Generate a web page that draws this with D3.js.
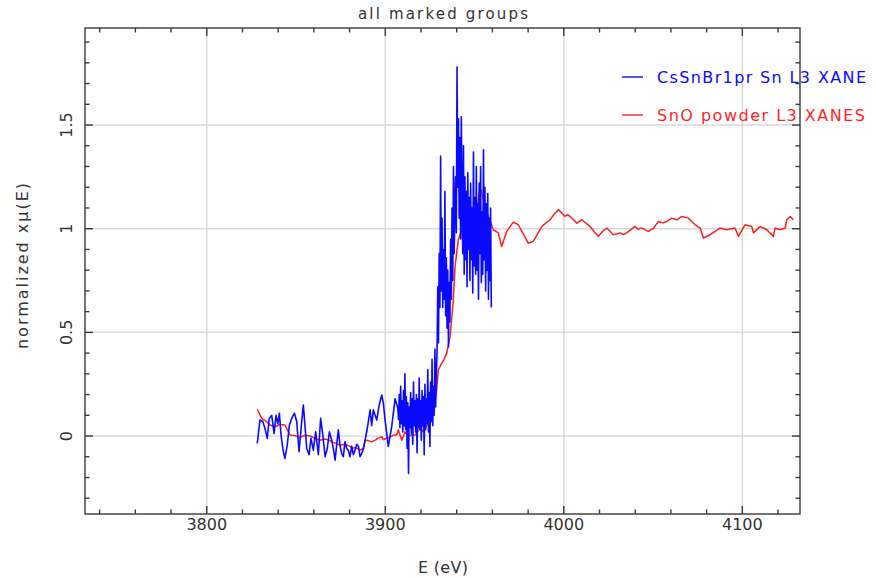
<!DOCTYPE html>
<html>
<head>
<meta charset="utf-8">
<script src="https://cdn.jsdelivr.net/npm/d3@7"></script>
<style>
  html, body { margin: 0; padding: 0; background: #fff; }
  svg { display: block; }
  text { font-family: "DejaVu Sans", "Liberation Sans", sans-serif; fill: #333; }
</style>
</head>
<body>
<svg id="chart" width="876" height="578"></svg>
<script>
// ---- data -------------------------------------------------------------
const chartTitle = "all marked groups";
const xLabel = "E (eV)";
const yLabel = "normalized x\u03bc(E)";
const xTickValues = [3800, 3900, 4000, 4100];
const yTickValues = [0, 0.5, 1, 1.5];
const yTickLabels = ["0", "0.5", "1", "1.5"];
const seriesNames = ["CsSnBr1pr Sn L3 XANE", "SnO powder L3 XANES"];
const seriesColors = ["#0a0aff", "#ff1f1f"];

// CsSnBr1pr Sn L3 XANES pre-edge: [energy (eV), normalized mu]
const cssnbrPreEdge = [
  [3828.3,-0.035],[3829.8,0.077],[3831.4,0.070],[3832.6,0.037],[3833.9,-0.011],
  [3835.0,0.085],[3836.4,0.100],[3837.7,0.013],[3838.8,0.100],[3839.8,0.060],
  [3840.7,0.110],[3841.6,0.005],[3842.9,-0.076],[3843.8,-0.108],[3845.1,-0.043],
  [3846.3,0.053],[3847.6,0.085],[3849.1,0.110],[3850.4,0.070],[3851.7,-0.076],
  [3853.2,0.070],[3854.1,0.150],[3855.0,0.053],[3856.0,-0.060],[3857.3,-0.090],
  [3858.4,-0.011],[3859.7,-0.068],[3861.0,0.020],[3862.5,-0.090],[3863.8,0.085],
  [3865.0,0.005],[3866.3,-0.100],[3867.5,-0.060],[3868.7,0.020],[3870.0,-0.020],
  [3870.9,-0.060],[3871.9,-0.116],[3872.8,-0.040],[3873.7,0.030],[3874.7,-0.050],
  [3875.6,-0.085],[3876.5,-0.100],[3877.4,-0.028],[3878.4,-0.060],[3879.3,-0.068],
  [3880.2,-0.100],[3881.2,-0.050],[3882.1,-0.090],[3883.1,-0.068],[3884.0,-0.040],
  [3885.0,-0.050],[3885.9,-0.100],[3886.8,-0.084],[3887.8,-0.060],[3888.7,-0.020],
  [3890.0,0.040],[3891.5,0.126],[3892.4,0.050],[3893.3,0.126],[3895.2,0.077],
  [3896.6,0.150],[3898.0,0.198],[3898.9,0.160],[3899.9,0.077],[3901.7,-0.050],
  [3903.6,0.045],[3905.5,0.180],[3907.0,0.134]
];
// edge region, sampled every 0.4 eV from 3907.4 eV
const cssnbrEdgeStart = 3907.4;
const cssnbrEdgeStep = 0.4;
const cssnbrEdgeMu = [
  0.08, 0.20, 0.04, 0.24, 0.06, 0.17, 0.02, 0.22, 0.05, 0.30,
  0.03, 0.19, -0.06, 0.16, -0.18, 0.14, 0.04, 0.21, 0.01, 0.18,
  -0.04, 0.26, 0.05, 0.17, 0.02, 0.20, -0.08, 0.18, 0.04, 0.28,
  0.03, 0.17, -0.02, 0.22, 0.05, 0.19, -0.09, 0.25, 0.03, 0.18,
  0.06, 0.32, 0.02, 0.21, -0.05, 0.26, 0.07, 0.37, 0.05, 0.24,
  0.10, 0.42, 0.14, 0.30, 0.40, 0.72, 0.45, 0.88, 0.62, 1.35,
  0.70, 1.05, 0.62, 0.90, 0.66, 1.18, 0.58, 0.86, 0.52, 0.80,
  0.43, 0.74, 0.55, 0.95, 0.66, 1.10, 0.75, 1.30, 0.88, 1.12,
  1.25, 0.98, 1.78, 1.20, 1.53, 1.05, 1.44, 0.95, 1.54, 1.12,
  0.88, 1.40, 0.78, 1.25, 0.85, 1.18, 0.72, 1.27, 0.90, 1.15,
  0.75, 1.22, 0.85, 1.10, 0.69, 1.37, 0.82, 1.15, 0.78, 1.30,
  0.80, 1.12, 0.66, 1.22, 0.88, 1.30, 0.74, 1.08, 0.78, 1.38,
  0.85, 1.20, 0.70, 1.12, 0.80, 1.17, 0.66, 1.05, 0.75, 1.10,
  0.62
];

// SnO powder L3 XANES: [energy (eV), normalized mu]
const snoPoints = [
  [3828.3,0.129],[3830.8,0.085],[3833.2,0.072],[3835.4,0.053],[3838.2,0.045],
  [3841.0,0.056],[3843.8,0.053],[3846.6,0.005],[3849.4,0.002],[3852.2,-0.008],
  [3855.0,0.004],[3857.9,0.000],[3860.7,-0.012],[3863.5,-0.020],[3866.3,-0.014],
  [3869.1,-0.022],[3870.0,-0.028],[3871.9,-0.034],[3874.7,-0.043],[3877.5,-0.040],
  [3880.3,-0.050],[3881.2,-0.060],[3883.1,-0.055],[3885.9,-0.068],[3887.7,-0.060],
  [3888.7,-0.020],[3890.5,-0.022],[3892.4,-0.028],[3894.3,-0.020],[3896.2,-0.010],
  [3898.0,-0.003],[3899.0,-0.018],[3900.8,-0.010],[3902.6,-0.006],[3904.5,0.005],
  [3906.4,0.005],[3907.3,0.030],[3909.2,-0.020],[3911.1,0.020],[3913.9,0.002],
  [3916.7,0.005],[3919.5,0.037],[3921.4,0.020],[3923.3,0.053],[3925.1,0.110],
  [3927.0,0.125],[3928.8,0.220],[3929.7,0.320],[3931.6,0.350],[3933.0,0.370],
  [3934.4,0.400],[3936.3,0.480],[3938.1,0.657],[3939.1,0.820],[3940.9,0.947],
  [3942.8,0.995],[3944.2,0.998],[3945.6,0.987],[3947.5,0.963],[3949.0,1.000],
  [3950.3,1.043],[3951.8,1.120],[3953.1,1.200],[3955.0,1.140],[3956.4,1.090],
  [3957.7,1.060],[3959.1,1.030],[3960.5,0.995],[3963.3,0.980],[3965.2,0.914],
  [3968.0,0.987],[3971.7,1.032],[3974.5,1.019],[3977.3,0.975],[3980.1,0.930],
  [3982.9,0.939],[3985.3,0.975],[3987.7,1.011],[3992.3,1.043],[3994.6,1.070],
  [3997.0,1.092],[4000.7,1.059],[4002.0,1.068],[4003.5,1.059],[4007.3,1.027],
  [4010.1,1.043],[4014.7,1.011],[4017.0,0.985],[4019.4,0.963],[4022.0,0.990],
  [4024.1,1.003],[4027.8,0.971],[4031.5,0.980],[4033.5,0.972],[4035.3,0.980],
  [4039.9,1.011],[4041.5,0.998],[4043.7,1.003],[4047.4,0.987],[4050.2,1.003],
  [4053.0,1.035],[4055.5,1.028],[4057.7,1.035],[4060.5,1.051],[4063.3,1.043],
  [4066.1,1.059],[4069.8,1.051],[4073.5,1.019],[4076.4,1.003],[4078.2,0.955],
  [4082.0,0.971],[4087.5,1.003],[4091.3,0.995],[4095.9,1.003],[4097.8,0.963],
  [4101.5,1.019],[4105.3,1.011],[4106.2,0.980],[4109.9,1.011],[4113.7,0.995],
  [4117.4,0.963],[4118.3,1.003],[4121.2,0.995],[4124.0,1.003],[4124.9,1.043],
  [4126.8,1.059],[4128.6,1.043]
];

// ---- layout -----------------------------------------------------------
const W = 876, H = 578;
const frame = { left: 85, right: 800, top: 28, bottom: 514 };

const x = d3.scaleLinear().domain([3731.8, 4132.3]).range([frame.left, frame.right]);
const y = d3.scaleLinear().domain([-0.376, 1.968]).range([frame.bottom, frame.top]);

const svg = d3.select("#chart");
svg.append("rect").attr("width", W).attr("height", H).attr("fill", "#fff");

svg.append("defs").append("clipPath").attr("id", "plot-clip")
  .append("rect")
  .attr("x", frame.left).attr("y", frame.top)
  .attr("width", frame.right - frame.left).attr("height", frame.bottom - frame.top);

// grid lines at the major ticks
const grid = svg.append("g").attr("stroke", "#d9d9d9").attr("stroke-width", 1.5);
grid.selectAll("line.gx").data(xTickValues).join("line")
  .attr("class", "gx")
  .attr("x1", d => x(d)).attr("x2", d => x(d))
  .attr("y1", frame.top).attr("y2", frame.bottom);
grid.selectAll("line.gy").data(yTickValues).join("line")
  .attr("class", "gy")
  .attr("x1", frame.left).attr("x2", frame.right)
  .attr("y1", d => y(d)).attr("y2", d => y(d));

// series
const cssnbrEdge = cssnbrEdgeMu.map((m, i) => [cssnbrEdgeStart + i * cssnbrEdgeStep, m]);
const cssnbrPoints = cssnbrPreEdge.concat(cssnbrEdge);

const line = d3.line().x(d => x(d[0])).y(d => y(d[1]));
const plot = svg.append("g").attr("clip-path", "url(#plot-clip)");
plot.append("path").datum(snoPoints)
  .attr("d", line).attr("fill", "none")
  .attr("stroke", seriesColors[1]).attr("stroke-width", 1.5)
  .attr("stroke-linejoin", "round");
plot.append("path").datum(cssnbrPoints)
  .attr("d", line).attr("fill", "none")
  .attr("stroke", seriesColors[0]).attr("stroke-width", 1.6)
  .attr("stroke-linejoin", "round");

// frame with inward ticks on all four sides
const axisColor = "#3a3a3a";
const majorLen = 8, minorLen = 4.5;
const xMinor = d3.range(3740, 4131, 20).filter(v => !xTickValues.includes(v));
const yMinor = d3.range(-3, 20).map(v => v / 10).filter(v => !yTickValues.includes(v) && v >= -0.37 && v <= 1.96);

const axisG = svg.append("g").attr("stroke", axisColor).attr("stroke-width", 1.4);
function hTicks(values, len) {
  values.forEach(v => {
    axisG.append("line").attr("x1", x(v)).attr("x2", x(v))
      .attr("y1", frame.bottom).attr("y2", frame.bottom - len);
    axisG.append("line").attr("x1", x(v)).attr("x2", x(v))
      .attr("y1", frame.top).attr("y2", frame.top + len);
  });
}
function vTicks(values, len) {
  values.forEach(v => {
    axisG.append("line").attr("y1", y(v)).attr("y2", y(v))
      .attr("x1", frame.left).attr("x2", frame.left + len);
    axisG.append("line").attr("y1", y(v)).attr("y2", y(v))
      .attr("x1", frame.right).attr("x2", frame.right - len);
  });
}
hTicks(xTickValues, majorLen);
hTicks(xMinor, minorLen);
vTicks(yTickValues, majorLen);
vTicks(yMinor, minorLen);
axisG.append("rect")
  .attr("x", frame.left).attr("y", frame.top)
  .attr("width", frame.right - frame.left).attr("height", frame.bottom - frame.top)
  .attr("fill", "none");

// tick labels
svg.append("g").selectAll("text").data(xTickValues).join("text")
  .attr("x", d => x(d)).attr("y", 530)
  .attr("text-anchor", "middle").attr("font-size", 16)
  .text(d => d);
svg.append("g").selectAll("text").data(yTickValues).join("text")
  .attr("transform", d => `translate(72,${y(d)}) rotate(-90)`)
  .attr("text-anchor", "middle").attr("font-size", 16)
  .text((d, i) => yTickLabels[i]);

// axis titles and chart title
svg.append("text").attr("x", 443).attr("y", 573)
  .attr("text-anchor", "middle").attr("font-size", 16)
  .attr("textLength", 50).attr("lengthAdjust", "spacing").text(xLabel);
svg.append("text").attr("transform", "translate(28,266) rotate(-90)")
  .attr("text-anchor", "middle").attr("font-size", 16)
  .attr("textLength", 166).attr("lengthAdjust", "spacing").text(yLabel);
svg.append("text").attr("x", 443).attr("y", 19)
  .attr("text-anchor", "middle").attr("font-size", 15)
  .attr("textLength", 170).attr("lengthAdjust", "spacing").text(chartTitle);

// legend
const legend = svg.append("g");
const legendRows = [77, 115];
seriesNames.forEach((name, i) => {
  legend.append("line")
    .attr("x1", 622).attr("x2", 643)
    .attr("y1", legendRows[i]).attr("y2", legendRows[i])
    .attr("stroke", seriesColors[i]).attr("stroke-width", 1.4);
  legend.append("text")
    .attr("x", 657).attr("y", legendRows[i] + 6)
    .attr("font-size", 16)
    .style("fill", seriesColors[i])
    .attr("textLength", i === 0 ? 209 : 208).attr("lengthAdjust", "spacing")
    .text(name);
});
</script>
</body>
</html>
